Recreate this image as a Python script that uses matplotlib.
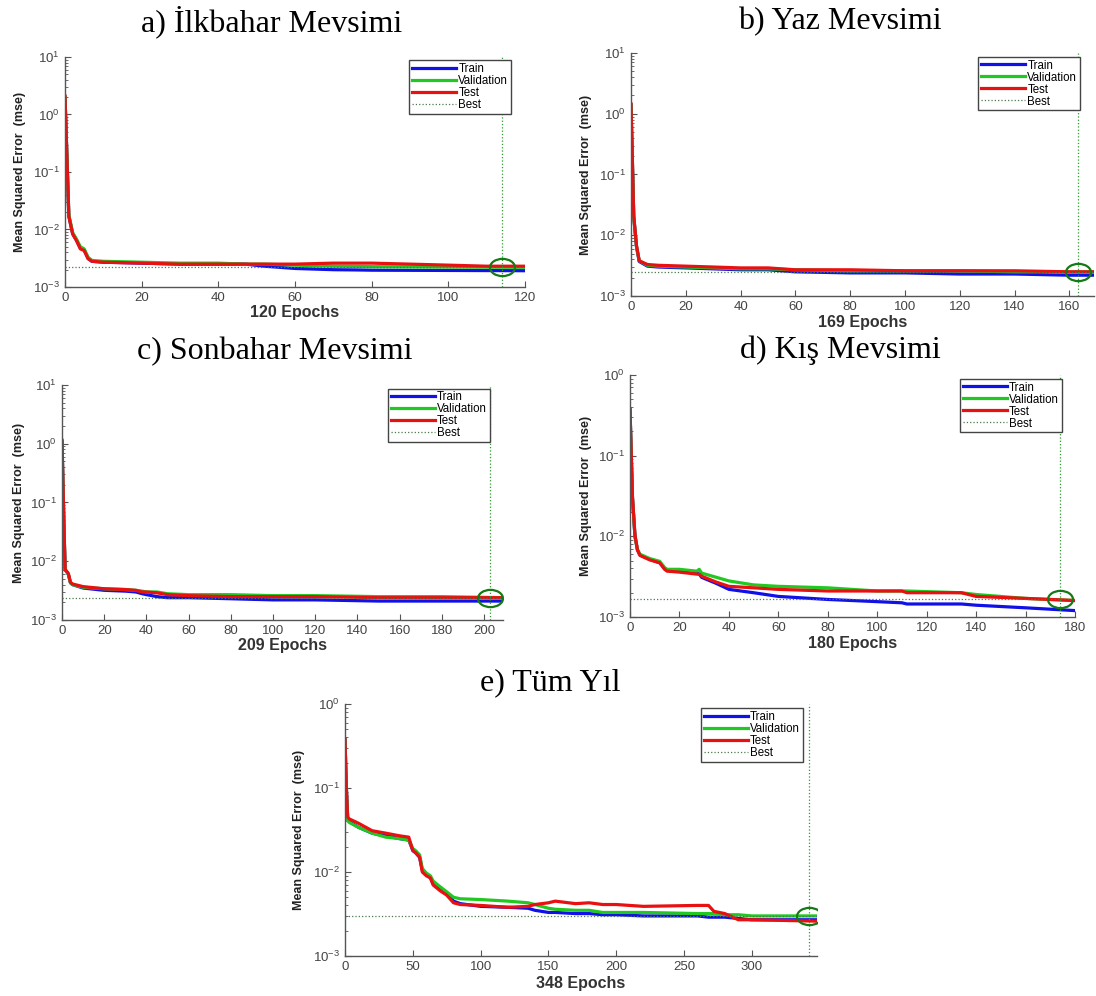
import numpy as np
import matplotlib
matplotlib.use("Agg")
import matplotlib.pyplot as plt
from matplotlib.ticker import LogLocator, FixedLocator
from matplotlib.path import Path

# ---- veri ----
titles = ["a) İlkbahar Mevsimi", "b) Yaz Mevsimi", "c) Sonbahar Mevsimi",
          "d) Kış Mevsimi", "e) Tüm Yıl"]
n_epochs = [120, 169, 209, 180, 348]
best_epoch = [114, 163, 203, 174, 342]
best_perf = [0.0022, 0.0025, 0.0024, 0.00165, 0.0030]

a_ep = [0, 1, 2, 3, 4, 5, 6, 7, 10, 20, 30, 40, 47, 52, 60, 70, 76, 80, 90, 100, 110, 120]
a_train = [2.0, 0.017, 0.0085, 0.0065, 0.0048, 0.0044, 0.0032, 0.0028, 0.0027, 0.0026, 0.0025,
           0.0025, 0.0025, 0.0023, 0.0021, 0.0020, 0.00198, 0.00196, 0.00195, 0.00194, 0.00193, 0.00192]
a_val = [2.0, 0.018, 0.0088, 0.0068, 0.0050, 0.0046, 0.0033, 0.0029, 0.0028, 0.0027, 0.0026,
         0.0026, 0.0025, 0.0025, 0.0024, 0.0023, 0.00228, 0.00226, 0.00224, 0.00222, 0.00221, 0.0022]
a_test = [2.1, 0.017, 0.0083, 0.0064, 0.0046, 0.0043, 0.0031, 0.0028, 0.0027, 0.0026, 0.0025,
          0.0025, 0.0025, 0.0025, 0.0025, 0.0026, 0.0026, 0.0026, 0.0025, 0.0024, 0.0023, 0.0023]

b_ep = [0, 1, 2, 3, 6, 10, 20, 30, 40, 50, 60, 80, 100, 120, 140, 160, 169]
b_train = [1.4, 0.02, 0.0065, 0.0037, 0.0031, 0.0030, 0.0029, 0.0028, 0.0027, 0.0027, 0.0025,
           0.0024, 0.0024, 0.0023, 0.0023, 0.0022, 0.0022]
b_val = [1.4, 0.02, 0.0066, 0.0038, 0.0032, 0.0031, 0.0030, 0.0029, 0.0028, 0.0028, 0.0027,
         0.0026, 0.0026, 0.0026, 0.0025, 0.0025, 0.0025]
b_test = [1.45, 0.021, 0.0068, 0.0038, 0.0033, 0.0032, 0.0031, 0.0030, 0.0029, 0.0029, 0.0027,
          0.0027, 0.0026, 0.0026, 0.0026, 0.0025, 0.0025]

c_ep = [0, 1, 1.5, 2, 3, 4, 5, 10, 20, 30, 35, 38, 40, 45, 50, 60, 80, 100, 120, 150, 180, 209]
c_train = [1.1, 0.03, 0.007, 0.0068, 0.006, 0.0043, 0.0040, 0.0035, 0.0032, 0.0031, 0.0030,
           0.0028, 0.0027, 0.0025, 0.0024, 0.0024, 0.0023, 0.0022, 0.0022, 0.0021, 0.0021, 0.0021]
c_val = [1.1, 0.03, 0.007, 0.0068, 0.006, 0.0043, 0.0040, 0.0036, 0.0034, 0.0033, 0.0032,
         0.0031, 0.0030, 0.0030, 0.0028, 0.0027, 0.0027, 0.0026, 0.0026, 0.0025, 0.0025, 0.0024]
c_test = [1.15, 0.032, 0.0072, 0.0069, 0.0062, 0.0044, 0.0041, 0.0037, 0.0034, 0.0033, 0.0032,
          0.0030, 0.0030, 0.0029, 0.0027, 0.0026, 0.0025, 0.0025, 0.0025, 0.0024, 0.0024, 0.0024]

d_ep = [0, 1, 2, 3, 4, 8, 12, 14, 15, 20, 27, 28, 29, 35, 40, 50, 60, 80, 100, 110, 112,
        134, 140, 160, 180]
d_train = [0.37, 0.03, 0.01, 0.0068, 0.0059, 0.0052, 0.0047, 0.0040, 0.0038, 0.0037, 0.0035,
           0.0034, 0.0031, 0.0026, 0.0022, 0.0020, 0.0018, 0.00165, 0.00155, 0.0015, 0.00145,
           0.00145, 0.0014, 0.0013, 0.0012]
d_val = [0.37, 0.03, 0.01, 0.0069, 0.0060, 0.0053, 0.0049, 0.0041, 0.0039, 0.0039, 0.0037,
         0.0039, 0.0035, 0.0031, 0.0028, 0.0025, 0.0024, 0.0023, 0.0021, 0.0021, 0.0021,
         0.0020, 0.0019, 0.0017, 0.0016]
d_test = [0.38, 0.031, 0.0105, 0.0068, 0.0058, 0.0051, 0.0047, 0.0039, 0.0037, 0.0036, 0.0034,
          0.0034, 0.0032, 0.0027, 0.0024, 0.0023, 0.0022, 0.0021, 0.0021, 0.0021, 0.0020,
          0.0020, 0.0018, 0.0017, 0.0016]

e_ep = [0, 1, 2, 3, 10, 20, 30, 40, 47, 50, 52, 55, 57, 60, 63, 65, 70, 75, 80, 85, 100, 120,
        135, 140, 150, 155, 170, 180, 190, 200, 220, 260, 268, 272, 280, 290, 300, 348]
e_train = [0.38, 0.1, 0.042, 0.040, 0.034, 0.029, 0.027, 0.025, 0.024, 0.018, 0.017, 0.015,
           0.0105, 0.0093, 0.0085, 0.0072, 0.0063, 0.0055, 0.0045, 0.0042, 0.0039, 0.0038,
           0.0037, 0.0035, 0.0033, 0.0033, 0.0032, 0.0032, 0.0031, 0.0031, 0.0030, 0.0030,
           0.0029, 0.0029, 0.0029, 0.0028, 0.0027, 0.0027]
e_val = [0.38, 0.1, 0.041, 0.039, 0.034, 0.029, 0.026, 0.025, 0.024, 0.019, 0.018, 0.016,
         0.011, 0.0097, 0.009, 0.0078, 0.0067, 0.0058, 0.0050, 0.0048, 0.0047, 0.0045,
         0.0043, 0.0041, 0.0037, 0.0036, 0.0035, 0.0035, 0.0033, 0.0033, 0.0033, 0.0032,
         0.0032, 0.0032, 0.0031, 0.0031, 0.0030, 0.0030]
e_test = [0.38, 0.1, 0.045, 0.043, 0.038, 0.031, 0.029, 0.027, 0.026, 0.018, 0.017, 0.015,
          0.010, 0.009, 0.0085, 0.0070, 0.0060, 0.0053, 0.0043, 0.0041, 0.0040, 0.0038,
          0.0039, 0.0041, 0.0043, 0.0045, 0.0042, 0.0043, 0.0041, 0.0041, 0.0039, 0.0040,
          0.0040, 0.0034, 0.0032, 0.0027, 0.0027, 0.0026]

panels = [(a_ep, a_train, a_val, a_test), (b_ep, b_train, b_val, b_test),
          (c_ep, c_train, c_val, c_test), (d_ep, d_train, d_val, d_test),
          (e_ep, e_train, e_val, e_test)]
y_top = [10, 10, 10, 1, 1]
x_step = [20, 20, 20, 20, 50]

# piksel konumları: sol, üst, sağ, alt
W, H = 1096, 996
boxes = [(65, 57, 525, 287), (631, 53, 1094, 296), (62, 385, 503, 620),
         (630, 375, 1075, 617), (345, 704, 817, 956)]
title_pos = [(272, 22), (840, 22), (275, 352), (840, 350), (550, 683)]

# yassı daire (orijinal görüntü yatayda gerilmiş)
circ = Path.unit_circle()
oval = Path(circ.vertices * [1.45, 1.0], circ.codes)

fig = plt.figure(figsize=(W / 100, H / 100), dpi=100)

for i in range(5):
    l, t, r, b = boxes[i]
    ax = fig.add_axes([l / W, 1 - b / H, (r - l) / W, (b - t) / H])
    ep, tr, va, te = panels[i]
    ax.plot(ep, tr, color="#1010e8", lw=2.3, label="Train")
    ax.plot(ep, va, color="#22c822", lw=2.3, label="Validation")
    ax.plot(ep, te, color="#e81010", lw=2.3, label="Test")
    ax.plot([0, n_epochs[i]], [best_perf[i], best_perf[i]], ls=":", lw=0.9,
            color="#4a7a4a", label="Best")
    ax.axvline(best_epoch[i], ls=":", lw=0.9, color="#2a9a2a")
    ax.plot([best_epoch[i]], [best_perf[i]], marker=oval, ms=18, mfc="none",
            mec="#157a15", mew=1.6, ls="none")

    ax.set_yscale("log")
    ax.set_ylim(1e-3, y_top[i])
    ax.set_xlim(0, n_epochs[i])
    ax.xaxis.set_major_locator(FixedLocator(np.arange(0, n_epochs[i] + 1, x_step[i])))
    ax.yaxis.set_major_locator(LogLocator(base=10, numticks=10))
    ax.yaxis.set_minor_locator(LogLocator(base=10, subs=np.arange(2, 10), numticks=10))

    for s in ["top", "right"]:
        ax.spines[s].set_visible(False)
    for s in ["left", "bottom"]:
        ax.spines[s].set_color("#555555")
        ax.spines[s].set_linewidth(1.0)
    ax.tick_params(which="both", direction="in", colors="#555555",
                   labelcolor="#444444", labelsize=9.5)
    ax.tick_params(which="major", length=4)
    ax.tick_params(which="minor", length=2)
    for lab in ax.get_xticklabels() + ax.get_yticklabels():
        lab.set_family("Liberation Sans")

    ax.set_ylabel("Mean Squared Error  (mse)", fontsize=9, fontweight="bold",
                  family=["Liberation Sans Narrow", "Liberation Sans"], color="#222222")
    ax.yaxis.set_label_coords(-0.085, 0.5)
    ax.text(0.5, -0.11, f"{n_epochs[i]} Epochs", transform=ax.transAxes,
            ha="center", va="center", fontsize=11.5, fontweight="bold",
            family="Liberation Sans", color="#333333")

    leg = ax.legend(loc="upper right", bbox_to_anchor=(0.97, 0.985), borderaxespad=0,
                    handlelength=3.8, labelspacing=0.0, borderpad=0.25,
                    handletextpad=0.2, fancybox=False, framealpha=1,
                    prop={"family": "Liberation Sans", "size": 8.3})
    leg.get_frame().set_edgecolor("#444444")
    leg.get_frame().set_linewidth(1.0)

    fig.text(title_pos[i][0] / W, 1 - title_pos[i][1] / H, titles[i],
             ha="center", va="center", fontsize=23, family="Liberation Serif")

fig.savefig("out.png", dpi=100)
